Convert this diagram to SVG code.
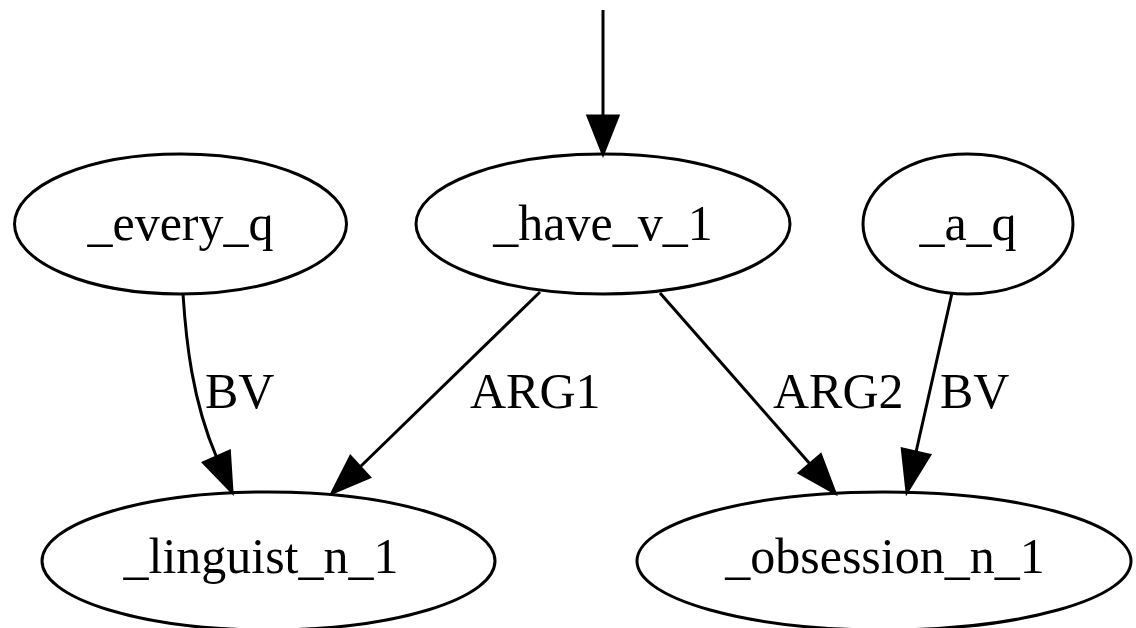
<svg xmlns="http://www.w3.org/2000/svg" width="1136" height="628" viewBox="0 0 1136 628">
<style>
.n ellipse{fill:none;stroke:#000;stroke-width:3}
.n text,.lbl{font-family:"Liberation Serif","Times New Roman",serif;font-size:50px;fill:#000}
.n text{text-anchor:middle}
.e path{fill:none;stroke:#000;stroke-width:3}
.e polygon{fill:#000;stroke:#000;stroke-width:3}
</style>
<rect width="1136" height="628" fill="#fff"/>
<g id="edges" class="e">
  <path d="M603,10 L603,116"/>
  <polygon points="588,116 618,116 603,154"/>
  <path d="M183,294 C186,340 192,400 216.5,457"/>
  <polygon points="203.6,462.7 229.4,451.3 232,492"/>
  <path d="M540,292 L360,467"/>
  <polygon points="369.5,477.3 350.5,456.7 332,493"/>
  <path d="M660,293 L810,464"/>
  <polygon points="820.6,454.9 799.4,473.1 835,493"/>
  <path d="M952,293 L916,452"/>
  <polygon points="929.7,455.1 902.3,448.9 907,492"/>
  <text class="lbl" x="205" y="408">BV</text>
  <text class="lbl" x="470" y="408">ARG1</text>
  <text class="lbl" x="773" y="408">ARG2</text>
  <text class="lbl" x="940" y="408">BV</text>
</g>
<g id="every_q" class="n">
  <ellipse cx="180.5" cy="224" rx="166" ry="70"/>
  <text x="180.5" y="240">_every_q</text>
</g>
<g id="have_v_1" class="n">
  <ellipse cx="603" cy="224" rx="187" ry="70"/>
  <text x="603" y="240">_have_v_1</text>
</g>
<g id="a_q" class="n">
  <ellipse cx="968" cy="224" rx="105" ry="70"/>
  <text x="968" y="240">_a_q</text>
</g>
<g id="linguist_n_1" class="n">
  <ellipse cx="268.5" cy="561" rx="226.5" ry="69"/>
  <text x="261" y="573">_linguist_n_1</text>
</g>
<g id="obsession_n_1" class="n">
  <ellipse cx="884" cy="561" rx="247" ry="69"/>
  <text x="885" y="573">_obsession_n_1</text>
</g>
</svg>
